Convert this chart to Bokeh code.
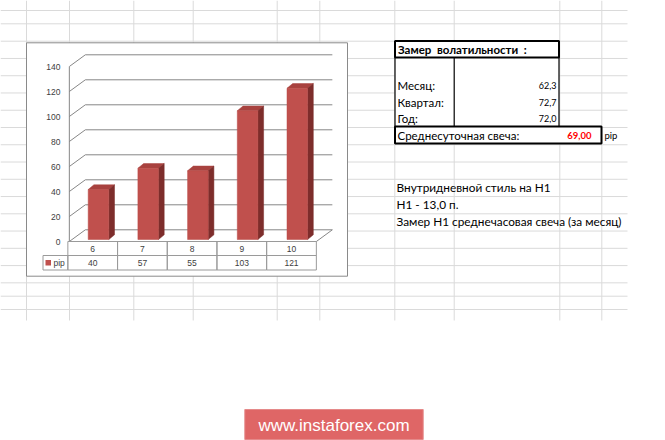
from bokeh.plotting import figure
from bokeh.models import Range1d
from bokeh.embed import file_html
from bokeh.resources import INLINE
from bokeh.core.properties import value

# ---- chart data ----
categories = ["6", "7", "8", "9", "10"]
pip = [40, 57, 55, 103, 121]
y_ticks = [0, 20, 40, 60, 80, 100, 120, 140]
series_name = "pip"

# ---- volatility sheet ----
vol_title = "Замер\u00a0 волатильности\u00a0 :"
vol_labels = ["Месяц:", "Квартал:", "Год:"]
vol_values = ["62,3", "72,7", "72,0"]
daily_label = "Среднесуточная свеча:"
daily_value = "69,00"
daily_unit = "pip"
notes = ["Внутридневной стиль на H1", "H1 - 13,0 п.",
         "Замер H1 среднечасовая свеча (за месяц)"]
watermark = "www.instaforex.com"

# ---- page geometry (pixels, y downwards) ----
W, H = 665, 440
GRID_COLS = [26, 69, 133.3, 192.7, 276.7, 319.3, 394.3, 453.7, 559.3, 601.3]
GRID_ROWS = [10, 23.3] + [40.7 + 17.26 * k for k in range(15)] + [295.7, 309]
GRID_RIGHT, GRID_BOTTOM = 627, 320

# value axis: 0 sits on the front floor edge, 1.25 px per unit
ZERO_PX, PPU = 241.0, 1.25
BAR_ZERO_PX = 239.0
# category axis: first slot centred at 92.2 px, slots 49.7 px wide
CAT0_PX, CAT_W = 92.2, 49.7

WALL_DX = 16 / CAT_W          # depth of the 3-D box, in category units
WALL_DY = 11.7 / PPU          # depth of the 3-D box, in value units
BAR_SHIFT = 5.8 / CAT_W       # bars stand half way into the box
BAR_W = 20.6 / CAT_W
SIDE_DX = 5.7 / CAT_W
SIDE_DY = 4.7 / PPU

p = figure(width=W, height=H, output_backend="svg", toolbar_location=None,
           x_range=Range1d(0, W), y_range=Range1d(H, 0),
           min_border=0, outline_line_color=None,
           background_fill_color="white", border_fill_color="white")
p.axis.visible = False
p.grid.visible = False


def value_range(zero_px, ppu):
    return Range1d(start=(zero_px - H) / ppu, end=zero_px / ppu)


p.extra_y_ranges = {"val": value_range(ZERO_PX, PPU),
                    "bar": value_range(BAR_ZERO_PX, PPU)}
p.extra_x_ranges = {"cat": Range1d(start=-CAT0_PX / CAT_W, end=(W - CAT0_PX) / CAT_W)}

# ---- spreadsheet grid ----
p.segment(x0=GRID_COLS, x1=GRID_COLS, y0=[0] * len(GRID_COLS),
          y1=[GRID_BOTTOM] * len(GRID_COLS), line_color="#dadada", line_width=1)
p.segment(x0=[0] * len(GRID_ROWS), x1=[GRID_RIGHT] * len(GRID_ROWS),
          y0=GRID_ROWS, y1=GRID_ROWS, line_color="#dadada", line_width=1)

# ---- chart area ----
p.quad(left=26, right=347, top=42.3, bottom=275.7, fill_color="white",
       line_color="#8a8a8a", line_width=1)

n = len(categories)
idx = list(range(n))
wall_x = -0.47
right_x = n - 0.5

# gridlines running along the left wall and the back wall
grid_xs, grid_ys = [], []
for t in y_ticks:
    grid_xs.append([wall_x, wall_x + WALL_DX, right_x + WALL_DX])
    grid_ys.append([t, t + WALL_DY, t + WALL_DY])
p.multi_line(xs=grid_xs, ys=grid_ys, line_color="#868686", line_width=1,
             x_range_name="cat", y_range_name="val")
# left wall edge and floor outline
p.multi_line(xs=[[wall_x, wall_x], [wall_x, right_x, right_x + WALL_DX]],
             ys=[[0, max(y_ticks)], [0, 0, WALL_DY]],
             line_color="#868686", line_width=1,
             x_range_name="cat", y_range_name="val")

p.text(x=[60] * len(y_ticks), y=y_ticks, text=[str(t) for t in y_ticks],
       text_align="right", text_baseline="middle", text_font_size="8.5px",
       text_color="#404040", text_font=value("Liberation Sans"),
       y_range_name="val")

# 3-D bars: top, side, front
bx = [i + BAR_SHIFT for i in idx]
lefts = [x - BAR_W / 2 for x in bx]
rights = [x + BAR_W / 2 for x in bx]
p.patches(xs=[[l, r, r + SIDE_DX, l + SIDE_DX] for l, r in zip(lefts, rights)],
          ys=[[v, v, v + SIDE_DY, v + SIDE_DY] for v in pip],
          fill_color="#a8423f", line_color="#a8423f", line_width=0.5,
          x_range_name="cat", y_range_name="bar")
p.patches(xs=[[r, r + SIDE_DX, r + SIDE_DX, r] for r in rights],
          ys=[[0, SIDE_DY, v + SIDE_DY, v] for v in pip],
          fill_color="#7d2d2b", line_color="#7d2d2b", line_width=0.5,
          x_range_name="cat", y_range_name="bar")
p.vbar(x=bx, top=pip, bottom=0, width=BAR_W, fill_color="#c0504d",
       line_color="#b84a47", line_width=0.5,
       x_range_name="cat", y_range_name="bar")

# ---- data table under the plot ----
ROW1_TOP, ROW1_BOT, ROW2_BOT = 241, 255, 269.5
p.quad(left=[i - 0.5 for i in idx], right=[i + 0.5 for i in idx],
       top=[ROW1_TOP] * n, bottom=[ROW1_BOT] * n, fill_color=None,
       line_color="#9a9a9a", line_width=1, x_range_name="cat")
p.quad(left=[-1.0] + [i - 0.5 for i in idx], right=[-0.5] + [i + 0.5 for i in idx],
       top=[ROW1_BOT] * (n + 1), bottom=[ROW2_BOT] * (n + 1), fill_color=None,
       line_color="#9a9a9a", line_width=1, x_range_name="cat")
p.text(x=idx, y=[(ROW1_TOP + ROW1_BOT) / 2] * n, text=categories,
       text_align="center", text_baseline="middle", text_font_size="8.5px",
       text_color="#404040", text_font=value("Liberation Sans"), x_range_name="cat")
p.text(x=idx, y=[(ROW1_BOT + ROW2_BOT) / 2] * n, text=[str(v) for v in pip],
       text_align="center", text_baseline="middle", text_font_size="8.5px",
       text_color="#404040", text_font=value("Liberation Sans"), x_range_name="cat")
p.quad(left=45, right=50.5, top=259.5, bottom=265, fill_color="#c0504d",
       line_color=None)
p.text(x=[53], y=[(ROW1_BOT + ROW2_BOT) / 2], text=[series_name],
       text_baseline="middle", text_font_size="8.5px", text_color="#404040",
       text_font=value("Liberation Sans"))

# ---- volatility block ----
FONT = value("Lato")
p.quad(left=394.5, right=558.5, top=57, bottom=126, fill_color="white",
       line_color=None)
p.quad(left=394.5, right=558.5, top=40.5, bottom=57, fill_color="white",
       line_color="black", line_width=2)
p.segment(x0=[394.5, 453.7, 558.5], x1=[394.5, 453.7, 558.5],
          y0=[57] * 3, y1=[126] * 3, line_color="black", line_width=1.2)
p.text(x=[397.5], y=[49], text=[vol_title], text_baseline="middle",
       text_font_size="11.5px", text_font_style="bold", text_color="black",
       text_font=FONT)
rows_y = [85, 101.7, 118]
p.text(x=[397] * 3, y=rows_y, text=vol_labels, text_baseline="middle",
       text_font_size="11.5px", text_color="black", text_font=FONT)
p.text(x=[556] * 3, y=rows_y, text=vol_values, text_align="right",
       text_baseline="middle", text_font_size="9px", text_color="black",
       text_font=FONT)
p.quad(left=394.5, right=601, top=126, bottom=143, fill_color="white",
       line_color="black", line_width=2)
p.text(x=[397], y=[134.5], text=[daily_label], text_baseline="middle",
       text_font_size="11.5px", text_color="black", text_font=FONT)
p.text(x=[591], y=[134.5], text=[daily_value], text_align="right",
       text_baseline="middle", text_font_size="9.5px", text_font_style="bold",
       text_color="#ff0000", text_font=FONT)
p.text(x=[604], y=[134.5], text=[daily_unit], text_baseline="middle",
       text_font_size="9.5px", text_color="black", text_font=FONT)
p.text(x=[396] * 3, y=[187, 204, 221], text=notes, text_baseline="middle",
       text_font_size="11.8px", text_color="black", text_font=FONT)

# ---- site badge ----
p.quad(left=244.3, right=422.7, top=409, bottom=439, fill_color="#df6666",
       line_color="#e58a8a", line_width=1)
p.text(x=[333.5], y=[424.5], text=[watermark], text_align="center",
       text_baseline="middle", text_font_size="17px", text_color="white",
       text_font=value("Liberation Sans"))

open("out.html", "w").write(file_html(p, INLINE))
